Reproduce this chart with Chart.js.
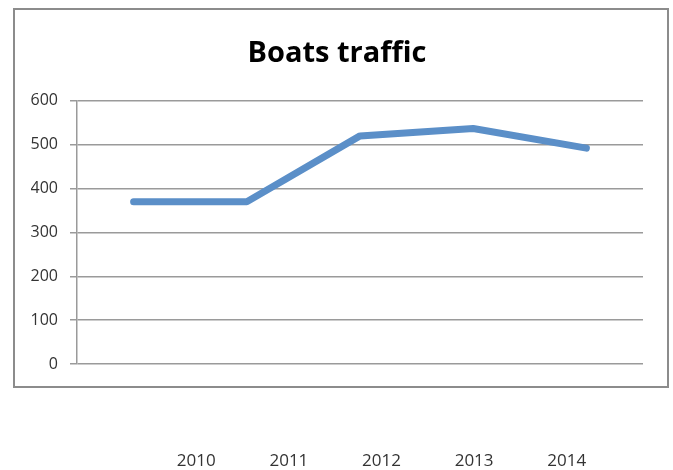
<!DOCTYPE html>
<html>
<head>
<meta charset="utf-8">
<script src="https://cdn.jsdelivr.net/npm/chart.js@4/dist/chart.umd.min.js"></script>
<style>
  html, body { margin: 0; padding: 0; background: #fff; }
  #wrap { position: relative; width: 673px; height: 470px; }
  #frame { position: absolute; left: 13px; top: 8px; width: 656px; height: 380px;
           border: 2px solid #8c8c8c; box-sizing: border-box; }
  #main { position: absolute; left: 0; top: 0; }
  #years { position: absolute; left: 150px; top: 418px; }
</style>
</head>
<body>
<div id="wrap">
  <div id="frame"></div>
  <canvas id="main" width="673" height="470"></canvas>
  <canvas id="years" width="463" height="50"></canvas>
</div>
<script>
var years = ['2010', '2011', '2012', '2013', '2014'];
var boats = [370, 370, 520, 537, 492];
var yTicks = [0, 100, 200, 300, 400, 500, 600];

var gridGray = '#9a9a9a';
var textColor = '#333333';
var font = "'Open Sans', sans-serif";

new Chart(document.getElementById('main').getContext('2d'), {
  type: 'line',
  data: {
    labels: years,
    datasets: [{
      data: boats,
      borderColor: '#5b8fc8',
      borderWidth: 7,
      borderCapStyle: 'round',
      borderJoinStyle: 'round',
      pointRadius: 0,
      tension: 0
    }]
  },
  options: {
    responsive: false,
    animation: false,
    layout: { padding: { left: 31, right: 30, top: 0, bottom: 106 } },
    plugins: {
      legend: { display: false },
      tooltip: { enabled: false },
      title: {
        display: true,
        text: 'Boats traffic',
        color: '#000',
        font: { family: font, size: 29, weight: 'bold', lineHeight: 1.2 },
        padding: { top: 36, bottom: 30 }
      }
    },
    scales: {
      x: { display: false, offset: true },
      y: {
        min: 0,
        max: 600,
        afterBuildTicks: function (scale) {
          scale.ticks = yTicks.map(function (v) { return { value: v }; });
        },
        afterFit: function (scale) { scale.width = 46; },
        grid: { color: gridGray, lineWidth: 1.5, tickLength: 7, drawTicks: true },
        border: { display: true, color: gridGray, width: 1.5 },
        ticks: { color: textColor, padding: 12, font: { family: font, size: 16 } }
      }
    }
  }
});

// year labels sit below the frame, on their own category axis
new Chart(document.getElementById('years').getContext('2d'), {
  type: 'line',
  data: {
    labels: years,
    datasets: [{ data: boats, showLine: false, pointRadius: 0 }]
  },
  options: {
    responsive: false,
    animation: false,
    layout: { padding: 0 },
    plugins: { legend: { display: false }, tooltip: { enabled: false } },
    scales: {
      x: {
        offset: true,
        grid: { display: false },
        border: { display: false },
        ticks: { color: textColor, padding: 0, maxRotation: 0, font: { family: font, size: 17 } }
      },
      y: { display: false }
    }
  }
});
</script>
</body>
</html>
